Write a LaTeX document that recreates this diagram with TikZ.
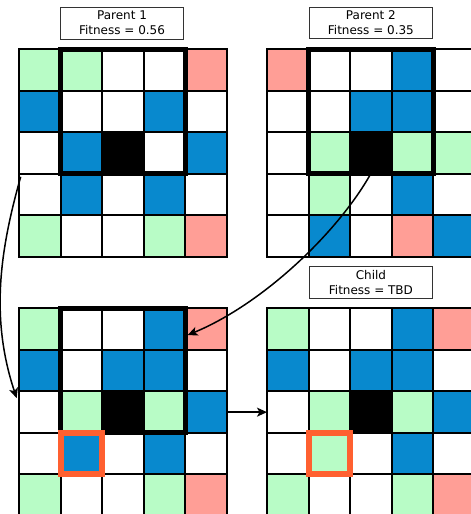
\documentclass[tikz,border=0pt]{standalone}
\usepackage{fontspec}
\setmainfont{DejaVu Sans}
\usetikzlibrary{arrows.meta}
\definecolor{G}{RGB}{184,252,198}
\definecolor{R}{RGB}{255,158,150}
\definecolor{B}{RGB}{8,137,206}
\definecolor{W}{RGB}{255,255,255}
\definecolor{K}{RGB}{0,0,0}
\definecolor{O}{RGB}{255,96,48}
\tikzset{
  cell/.style={draw=black,line width=2pt,minimum size=41.54pt,inner sep=0pt,outer sep=0pt,rectangle},
  thickbox/.style={draw=black,line width=5pt},
  orangebox/.style={draw=O,line width=6pt},
  titlebox/.style={draw=black!80,line width=0.9pt,fill=white,minimum width=123.5pt,minimum height=31.5pt,inner sep=0pt,align=center,font=\fontsize{12}{15}\selectfont},
  conn/.style={line width=1.5pt,-{Stealth[length=10pt,width=9pt,inset=2.5pt]}}
}
\newcommand\drawgrid[4]{%
  \foreach \c [count=\i from 0] in {#4} {
    \pgfmathtruncatemacro\rr{int(\i/5)}
    \pgfmathtruncatemacro\cc{mod(\i,5)}
    \node[cell,fill=\c] (#1-\rr-\cc) at ({#2+(\cc+0.5)*41.54},{#3+(\rr+0.5)*41.54}) {};
  }}
\begin{document}
\begin{tikzpicture}[x=1pt,y=-1pt]
\useasboundingbox (0,0) rectangle (471,514);
\clip (0,0) rectangle (471,514);
% Parent 1
\drawgrid{pa}{19}{49}{G,G,W,W,R, B,W,W,B,W, W,B,K,W,B, W,B,W,B,W, G,W,W,G,R}
% Parent 2
\drawgrid{pb}{267}{49}{R,W,W,B,W, W,W,B,B,W, W,G,K,G,G, W,G,W,B,W, W,B,W,R,B}
% Crossover child
\drawgrid{ca}{19}{308.3}{G,W,W,B,R, B,W,B,B,W, W,G,K,G,B, W,B,W,B,W, G,W,W,G,R}
% Mutated child
\drawgrid{cb}{267}{308.3}{G,W,W,B,R, B,W,B,B,W, W,G,K,G,B, W,G,W,B,W, G,W,W,G,R}
% thick windows
\draw[thickbox] (pa-0-1.north west) rectangle (pa-2-3.south east);
\draw[thickbox] (pb-0-1.north west) rectangle (pb-2-3.south east);
\draw[thickbox] (ca-0-1.north west) rectangle (ca-2-3.south east);
% mutation highlights
\draw[orangebox] (ca-3-1.north west) rectangle (ca-3-1.south east);
\draw[orangebox] (cb-3-1.north west) rectangle (cb-3-1.south east);
% titles
\node[titlebox] (t1) at (122,23.2) {Parent 1\\Fitness = 0.56};
\node[titlebox] (t2) at (370.9,22.8) {Parent 2\\Fitness = 0.35};
\node[titlebox] (t3) at (370.9,282.2) {Child\\Fitness = TBD};
% connectors
\coordinate (s1) at ([shift={(1.7,3.2)}]pa-3-0.north west);
\coordinate (e1) at ([shift={(-2.3,-14)}]ca-2-0.west);
\draw[conn] (s1) .. controls (0,250) and (-10,318) .. (e1);
\coordinate (s2) at (pb-2-2.south);
\coordinate (e2) at ([shift={(2.5,6)}]ca-0-3.east);
\draw[conn] (s2) .. controls (336.7,234.2) and (261.4,304.6) .. (e2);
\draw[conn] (ca-2-4.east) -- (cb-2-0.west);
\end{tikzpicture}
\end{document}
